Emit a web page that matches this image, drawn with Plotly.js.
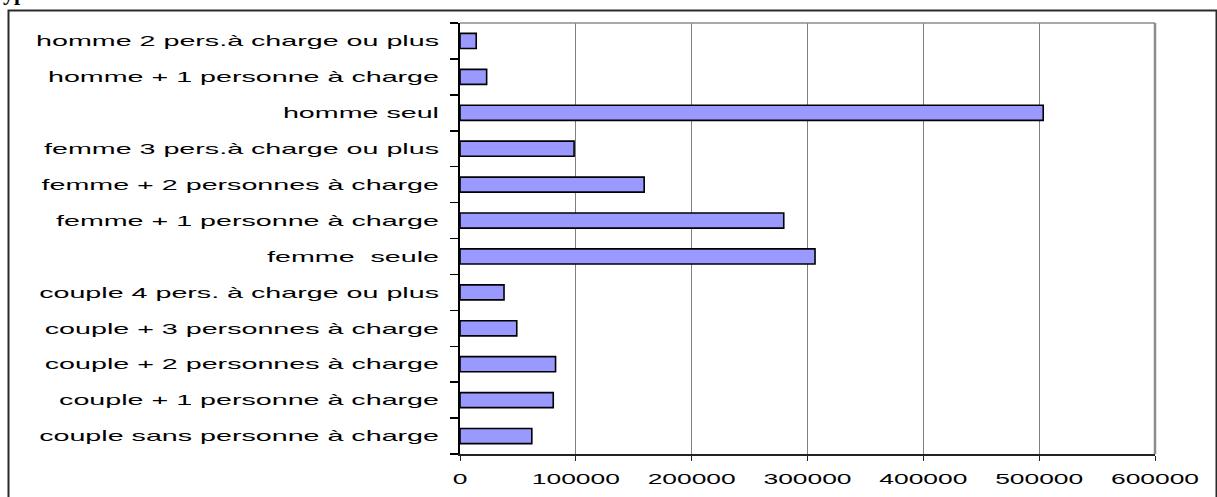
<!DOCTYPE html>
<html>
<head>
<meta charset="utf-8">
<script src="https://cdn.plot.ly/plotly-3.0.1.min.js"></script>
<style>
html,body{margin:0;padding:0;background:#fff;}
#chart{width:1217px;height:497px;}
</style>
</head>
<body>
<div id="chart"></div>
<script>
const categories = [
  "couple sans personne à charge",
  "couple + 1 personne à charge",
  "couple + 2 personnes à charge",
  "couple + 3 personnes à charge",
  "couple 4 pers. à charge ou plus",
  "femme  seule",
  "femme + 1 personne à charge",
  "femme + 2 personnes à charge",
  "femme 3 pers.à charge ou plus",
  "homme seul",
  "homme + 1 personne à charge",
  "homme 2 pers.à charge ou plus"
];
const values = [62000, 80500, 82500, 49000, 38000, 306500, 279500, 159000, 98500, 503500, 23000, 14000];
const xTicks = [0, 100000, 200000, 300000, 400000, 500000, 600000];
const titleText = "Type";

const W = 1217, H = 497;
const L = 460, R = 1155, T = 23, B = 454;
const px2x = p => (p - L) / (R - L);
const px2y = p => (B - p) / (B - T);

const trace = {
  type: 'bar',
  orientation: 'h',
  y: categories,
  x: values,
  marker: {color: '#9999FF', line: {color: '#000000', width: 1.6}},
  hoverinfo: 'none'
};

const layout = {
  width: W, height: H,
  margin: {l: L, r: W - R, t: T, b: H - B, pad: 0},
  paper_bgcolor: '#ffffff',
  plot_bgcolor: '#ffffff',
  showlegend: false,
  bargap: 0.58,
  font: {family: 'Liberation Sans, Arial, sans-serif', size: 15, color: '#000'},
  xaxis: {
    range: [0, 600000],
    tickvals: xTicks,
    ticktext: xTicks.map(String),
    showgrid: true, gridcolor: '#808080', gridwidth: 1,
    zeroline: false,
    showline: true, linecolor: '#222', linewidth: 1.5,
    ticks: 'outside', ticklen: 5, tickcolor: '#222', tickwidth: 1,
    tickfont: {size: 15, color: '#000'},
    ticklabelstandoff: 5,
    fixedrange: true
  },
  yaxis: {
    type: 'category',
    tickson: 'boundaries',
    showgrid: false, zeroline: false,
    showline: true, linecolor: '#000', linewidth: 2,
    ticks: 'outside', ticklen: 8, tickcolor: '#000', tickwidth: 1.5,
    tickfont: {size: 15, color: '#000'},
    ticklabelstandoff: 16,
    fixedrange: true
  },
  shapes: [
    {type: 'line', xref: 'paper', yref: 'paper', x0: 0, x1: 1, y0: 1, y1: 1,
     line: {color: '#8c8c8c', width: 1.5}},
    {type: 'line', xref: 'paper', yref: 'paper', x0: 1, x1: 1, y0: 0, y1: 1,
     line: {color: '#8c8c8c', width: 2.5}},
    {type: 'rect', xref: 'paper', yref: 'paper',
     x0: px2x(8.5), x1: px2x(1216.5), y0: px2y(503), y1: px2y(10.5),
     line: {color: '#2a2a2a', width: 2}, layer: 'above'}
  ],
  annotations: [
    {text: '<b>' + titleText + '</b>', xref: 'paper', yref: 'paper',
     x: px2x(-12), y: px2y(7), xanchor: 'left', yanchor: 'bottom',
     showarrow: false, font: {family: 'Liberation Serif, Times New Roman, serif', size: 22, color: '#000'}}
  ]
};

const gd = document.getElementById('chart');
Plotly.newPlot(gd, [trace], layout, {staticPlot: true, displayModeBar: false}).then(() => {
  const stretch = (sel, f, mode) => {
    gd.querySelectorAll(sel).forEach(t => {
      const b0 = t.getBBox();
      const n = t.getComputedTextLength();
      t.setAttribute('textLength', (n * f).toFixed(1));
      t.setAttribute('lengthAdjust', 'spacingAndGlyphs');
      const b1 = t.getBBox();
      let d;
      if (mode === 'end') d = (b0.x + b0.width) - (b1.x + b1.width);
      else d = (b0.x + b0.width / 2) - (b1.x + b1.width / 2);
      if (Math.abs(d) > 0.3) t.setAttribute('dx', d.toFixed(1));
    });
  };
  stretch('.xtick text', 1.76, 'middle');
  stretch('.ytick text', 1.91, 'end');
});
</script>
</body>
</html>
